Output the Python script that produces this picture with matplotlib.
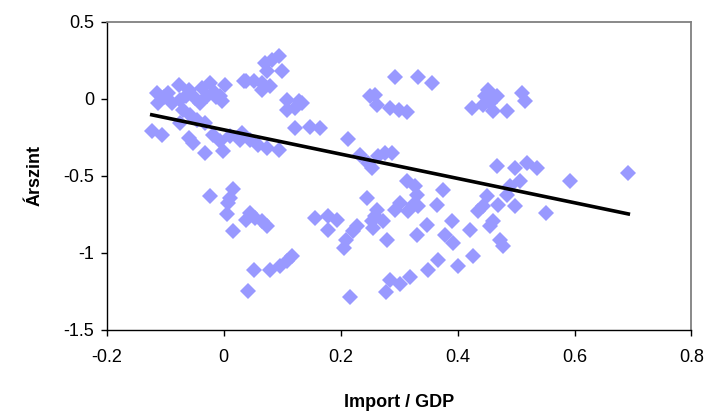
import numpy as np
import matplotlib
matplotlib.use("Agg")
import matplotlib.pyplot as plt

plt.rcParams['font.family'] = ['Liberation Sans', 'DejaVu Sans']

# import / GDP (x) and price level (y)
import_gdp = [
    -0.114, -0.112, -0.095, -0.077, -0.060, -0.075, -0.089, -0.037, -0.023, 0.002,
    -0.006, -0.003, -0.029, -0.049, 0.034, -0.069, -0.057, -0.046, -0.032, -0.075,
    -0.123, -0.106, -0.060, -0.052, -0.018, -0.006, -0.032, -0.001, 0.011, 0.028,
    -0.102, -0.064, -0.016, -0.040, -0.013,
    0.094, 0.082, 0.071, 0.074, 0.099, 0.039, 0.051, 0.065, 0.079, 0.065,
    0.108, 0.128, 0.134, 0.108, 0.122, 0.122, 0.148, 0.165, 0.031, 0.045,
    0.059, 0.074, 0.094,
    0.293, 0.333, 0.356, 0.250, 0.259, 0.262, 0.284, 0.299, 0.313, 0.212,
    0.233, 0.247, 0.253, 0.264, 0.276, 0.287,
    0.313, 0.327, 0.330, 0.324, 0.302, 0.293, 0.316, 0.333, 0.375, 0.364,
    0.245, 0.262, 0.259, 0.253, 0.273, 0.228, 0.222, 0.256, 0.279, 0.347,
    0.330, 0.390, 0.378, 0.393, 0.156, 0.179, 0.193, 0.179, 0.210, 0.205,
    0.421, 0.427, 0.367, 0.350, 0.401, 0.319, 0.302, 0.284, 0.278, 0.216,
    -0.023, 0.016, 0.011, 0.008, 0.005, 0.016, 0.045, 0.039, 0.054, 0.065,
    0.074, 0.052, 0.079, 0.096, 0.108, 0.116, 0.042,
    0.452, 0.447, 0.467, 0.424, 0.444, 0.455, 0.461, 0.484, 0.510, 0.515,
    0.467, 0.498, 0.518, 0.535, 0.507, 0.490, 0.484, 0.450, 0.470, 0.498,
    0.444, 0.435, 0.461, 0.455, 0.552, 0.472, 0.478, 0.593, 0.692,
]
arszint = [
    0.039, -0.026, 0.039, 0.093, 0.060, -0.005, -0.026, 0.071, 0.104, 0.093,
    0.017, -0.016, 0.017, 0.006, 0.114, -0.069, -0.102, -0.134, -0.156, -0.156,
    -0.210, -0.232, -0.253, -0.286, -0.232, -0.275, -0.351, -0.340, -0.243, -0.264,
    0.015, 0.021, 0.047, -0.024, 0.015,
    0.277, 0.255, 0.234, 0.179, 0.179, 0.114, 0.114, 0.104, 0.082, 0.060,
    -0.005, -0.016, -0.026, -0.069, -0.058, -0.188, -0.182, -0.188, -0.221, -0.264,
    -0.297, -0.318, -0.329,
    0.140, 0.140, 0.104, 0.017, 0.028, -0.042, -0.058, -0.069, -0.084, -0.258,
    -0.362, -0.416, -0.448, -0.373, -0.351, -0.351,
    -0.535, -0.568, -0.621, -0.686, -0.675, -0.719, -0.730, -0.697, -0.589, -0.686,
    -0.643, -0.719, -0.762, -0.795, -0.795, -0.827, -0.860, -0.838, -0.914, -0.816,
    -0.881, -0.795, -0.881, -0.935, -0.773, -0.762, -0.784, -0.849, -0.914, -0.968,
    -0.849, -1.018, -1.044, -1.108, -1.082, -1.156, -1.199, -1.178, -1.256, -1.288,
    -0.628, -0.584, -0.643, -0.675, -0.745, -0.860, -0.740, -0.784, -0.773, -0.795,
    -0.827, -1.108, -1.108, -1.087, -1.055, -1.022, -1.249,
    0.060, 0.017, 0.017, -0.058, -0.037, -0.026, -0.081, -0.081, 0.039, -0.016,
    -0.438, -0.448, -0.416, -0.448, -0.535, -0.568, -0.621, -0.632, -0.686, -0.697,
    -0.697, -0.730, -0.795, -0.827, -0.740, -0.914, -0.957, -0.535, -0.479,
]

# linear trend: y = intercept + slope * x
trend_intercept = -0.20
trend_slope = -0.79

x = np.array(import_gdp)
y = np.array(arszint)

fig = plt.figure(figsize=(7.07, 4.15), dpi=100)
ax = fig.add_axes([0.151, 0.205, 0.827, 0.742])

ax.plot(x, y, linestyle='none', marker='D', markersize=8,
        color='#9999ff', markeredgewidth=0)

xt = np.array([x.min(), x.max()])
ax.plot(xt, trend_intercept + trend_slope * xt, color='black', lw=2.6)

ax.set_xlim(-0.2, 0.8)
ax.set_ylim(-1.5, 0.5)
ax.set_xticks([-0.2, 0, 0.2, 0.4, 0.6, 0.8])
ax.set_xticklabels(['-0.2', '0', '0.2', '0.4', '0.6', '0.8'])
ax.set_yticks([-1.5, -1, -0.5, 0, 0.5])
ax.set_yticklabels(['-1.5', '-1', '-0.5', '0', '0.5'])
ax.tick_params(direction='out', length=4, width=1, labelsize=13, color='black')
ax.tick_params(axis='x', pad=10)
ax.tick_params(axis='y', pad=5)

for s in ['top', 'right']:
    ax.spines[s].set_color('#808080')
    ax.spines[s].set_linewidth(1.3)
for s in ['left', 'bottom']:
    ax.spines[s].set_color('black')
    ax.spines[s].set_linewidth(1)

ax.set_xlabel('Import / GDP', fontsize=13, fontweight='bold', labelpad=20)
ax.set_ylabel('Árszint', fontsize=13, fontweight='bold', labelpad=14)

fig.savefig('out.png', dpi=100)
